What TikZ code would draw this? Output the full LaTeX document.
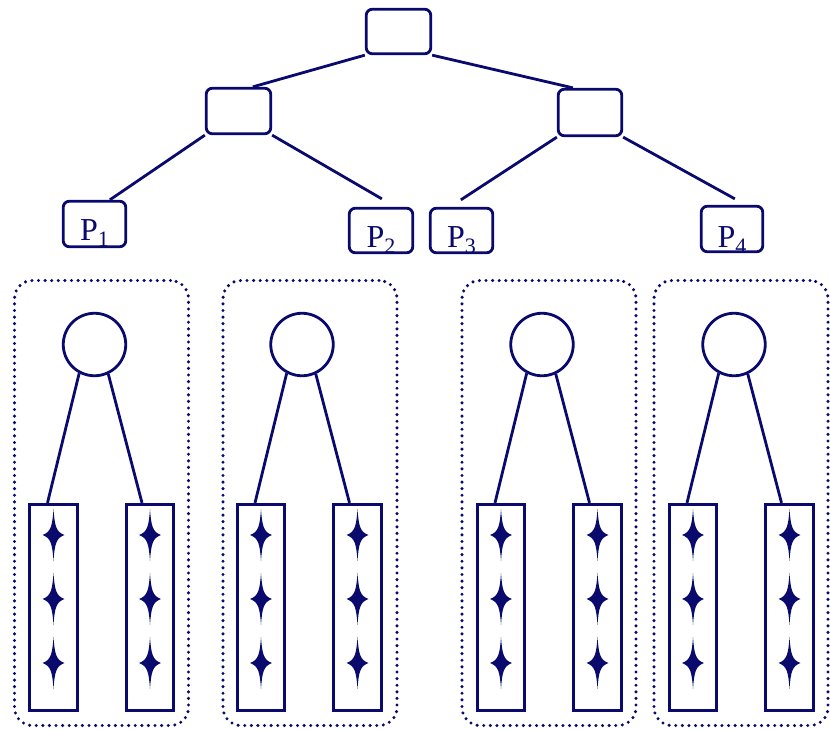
\documentclass[tikz,border=0pt]{standalone}
\usepackage{fontspec}
\setmainfont{Liberation Serif}
\usetikzlibrary{calc}
\definecolor{navyc}{RGB}{10,10,110}
\newcommand\psub[1]{\raisebox{-6pt}{\fontsize{22}{22}\selectfont #1}}
\begin{document}
\begin{tikzpicture}[x=1pt,y=-1pt,
  tbox/.style={draw=navyc, line width=2.8pt, rounded corners=6pt, inner sep=0pt},
  pbox/.style={tbox, font=\fontsize{32}{32}\selectfont, text=navyc},
  edge/.style={draw=navyc, line width=2.8pt},
  grp/.style={draw=navyc, line width=3.4pt, dash pattern=on 0pt off 6.6pt, line cap=round, rounded corners=18pt, minimum width=174pt, minimum height=445pt, inner sep=0pt},
  circ/.style={circle, draw=navyc, line width=2.8pt, minimum size=62.5pt, inner sep=0pt},
  leaf/.style={draw=navyc, line width=2.8pt, minimum width=47.5pt, minimum height=206.5pt, inner sep=0pt},
  spark/.pic={\fill[navyc] (0,-26) .. controls (1.2,-9) and (2.6,-3) .. (11,0) .. controls (2.6,3) and (1.2,9) .. (0,26) .. controls (-1.2,9) and (-2.6,3) .. (-11,0) .. controls (-2.6,-3) and (-1.2,-9) .. cycle;}
]
\useasboundingbox (0,0) rectangle (830,729);

% tree
\node[tbox, minimum width=64.5pt, minimum height=44.5pt] (root) at (398.5,31.5) {};
\node[tbox, minimum width=64.5pt, minimum height=45.5pt] (L) at (238.5,111) {};
\node[tbox, minimum width=63.5pt, minimum height=46.5pt] (R) at (590,112.5) {};
\node[pbox, minimum width=62.5pt, text height=38.75pt, text depth=6.75pt] (P1) at (94.5,224) {P\psub{1}};
\node[pbox, minimum width=63.5pt, text height=38.75pt, text depth=5.75pt] (P2) at (381,230.5) {P\psub{2}};
\node[pbox, minimum width=62.5pt, text height=38.75pt, text depth=5.75pt] (P3) at (461.5,230.5) {P\psub{3}};
\node[pbox, minimum width=61.5pt, text height=40.75pt, text depth=4.75pt] (P4) at (732,229) {P\psub{4}};

\draw[edge] (root.south west) -- ($(L.north west)+(48,0)$);
\draw[edge] (root.south east) -- ($(R.north west)+(16,0)$);
\draw[edge] (L.south west) -- ($(P1.north west)+(48,0)$);
\draw[edge] (L.south east) -- ($(P2.north west)+(34,-8)$);
\draw[edge] (R.south west) -- ($(P3.north west)+(32,-7)$);
\draw[edge] (R.south east) -- ($(P4.north west)+(35,-6)$);

% groups
\foreach \i/\cx/\gx in {1/94.5/101.5, 2/302/310, 3/542/549, 4/734/741}{
  \node[grp] (G\i) at (\gx,503) {};
  \node[circ] (C\i) at (\cx,344.5) {};
  \node[leaf] (A\i) at ($(\cx,607.5)+(-41,0)$) {};
  \node[leaf] (B\i) at ($(\cx,607.5)+(55.5,0)$) {};
  \draw[edge] (C\i.242) -- ($(A\i.north)+(-6,0)$);
  \draw[edge] (C\i.295) -- ($(B\i.north)+(-8,0)$);
  \foreach \dy in {-72.5,-8.5,55.5}{
    \pic at ($(A\i.center)+(0,\dy)$) {spark};
    \pic at ($(B\i.center)+(0,\dy)$) {spark};
  }
}
\end{tikzpicture}
\end{document}
